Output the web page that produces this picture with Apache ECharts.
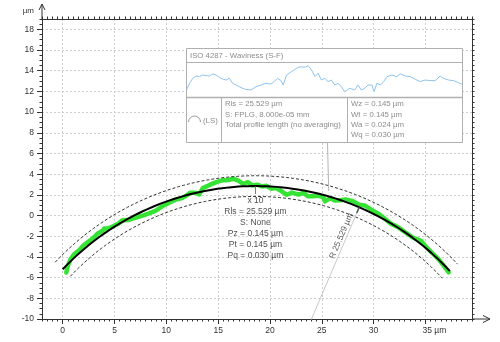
<!DOCTYPE html>
<html>
<head>
<meta charset="utf-8">
<script src="https://cdn.jsdelivr.net/npm/echarts@6/dist/echarts.min.js"></script>
<style>
  html, body { margin: 0; padding: 0; background: #fff; }
  #chart { width: 500px; height: 342px; }
</style>
</head>
<body>
<div id="chart"></div>
<script>
// Least-squares circle fitted to the trace, in chart coordinates (µm)
const fitRadius = 25.529;
const fitCenter = [18.6, -22.68];
const bandOffset = 1.0;      // displayed tolerance band around the fit (µm)
const exaggeration = 10;     // deviation magnification on the main plot

// Waviness profile: position along the trace (µm) and deviation from the fit (µm)
const profileX = [0.00, 0.41, 0.85, 1.31, 1.76, 2.21, 2.67, 3.11, 3.56, 4.02, 4.24, 4.47, 4.92, 5.38, 5.82,
  6.27, 6.73, 7.18, 7.62, 8.08, 8.76, 9.44, 10.11, 10.79, 11.47, 11.92, 12.36, 12.82, 13.13, 13.58,
  14.26, 14.93, 15.39, 16.07, 16.52, 16.97, 17.43, 17.87, 18.32, 18.78, 19.23, 19.67, 20.13, 20.58, 21.03,
  21.49, 21.70, 22.16, 22.84, 23.29, 23.74, 24.20, 24.64, 25.18, 25.46, 25.86, 26.31, 26.77, 27.22, 27.89,
  28.57, 29.02, 29.69, 30.37, 31.05, 31.72, 32.40, 33.08, 33.76, 34.43, 34.89, 35.57, 36.25, 36.92, 37.37];
const profileW = [-0.047, -0.012, 0.014, 0.026, 0.023, 0.031, 0.028, 0.026, 0.037, 0.031, 0.040, 0.019, 0.010, 0.005, 0.014,
  -0.012, -0.021, -0.030, -0.038, -0.044, -0.047, -0.030, -0.021, -0.012, -0.016, -0.003, 0.014, 0.002, -0.021, 0.031,
  0.049, 0.066, 0.074, 0.072, 0.080, 0.058, 0.023, 0.040, 0.005, 0.014, -0.003, 0.005, -0.021, -0.012, -0.030,
  -0.056, -0.065, -0.038, -0.047, -0.021, -0.047, -0.038, -0.021, -0.021, -0.056, -0.012, -0.021, -0.003, 0.023, 0.031,
  0.023, 0.037, 0.026, 0.023, 0.009, -0.003, 0.005, 0.002, 0.002, 0.026, 0.014, 0.005, 0.002, -0.009, -0.016];

// Axis ticks
const xTicks = [0, 5, 10, 15, 20, 25, 30, 35];
const yTicks = [-10, -8, -6, -4, -2, 0, 2, 4, 6, 8, 10, 12, 14, 16, 18];

// Reported parameters
const primaryLines = ['Pz = 0.145 µm', 'Pt = 0.145 µm', 'Pq = 0.030 µm'];
const waveLines = ['Wz = 0.145 µm', 'Wt = 0.145 µm', 'Wa = 0.024 µm', 'Wq = 0.030 µm'];
const filterLines = ['Rls = 25.529 µm', 'S: FPLG, 8.000e-05 mm', 'Total profile length (no averaging)'];
const radiusAngle = 66.9;    // direction of the radius callout (degrees)

const FONT = "'Liberation Sans', Arial, sans-serif";

// Point on a circle concentric with the fit, at the angle of trace position x
function onCircle(x, r) {
  const th = Math.acos((x - fitCenter[0]) / fitRadius);
  return [fitCenter[0] + r * Math.cos(th), fitCenter[1] + r * Math.sin(th)];
}
function atAngle(deg, r, side) {
  const t = deg * Math.PI / 180;
  const s = side || 0;
  return [fitCenter[0] + r * Math.cos(t) - s * Math.sin(t), fitCenter[1] + r * Math.sin(t) + s * Math.cos(t)];
}

const arcPts = profileX.map(x => onCircle(x, fitRadius));
const outerPts = profileX.map(x => onCircle(x, fitRadius + bandOffset));
const innerPts = profileX.map(x => onCircle(x, fitRadius - bandOffset));
const tracePts = profileX.map((x, i) => onCircle(x, fitRadius + exaggeration * profileW[i]));
const insetPts = profileX.map((x, i) => [x, profileW[i]]);

// Main plot frame
const G = { left: 42, top: 19, width: 430, height: 300 };
// Waviness panel
const B = { x: 186.5, y: 48.5, w: 276, h: 94, title: 62.5, row: 97.5, c1: 221.5, c2: 347.5 };

const gridLine = { show: true, lineStyle: { color: '#cfcfcf', type: [2, 2], width: 1 } };
const axisLineDark = { show: true, onZero: false, lineStyle: { color: '#333', width: 1 } };
const minorX = (pos) => ({
  type: 'value', gridIndex: 0, position: pos, min: -2, max: 39.5, interval: 0.5,
  axisLine: axisLineDark, axisTick: { show: true, length: 2.5, lineStyle: { color: '#333' } },
  axisLabel: { show: false }, splitLine: { show: false }
});
const minorY = (pos) => ({
  type: 'value', gridIndex: 0, position: pos, min: -10, max: 19, interval: 0.5,
  axisLine: axisLineDark, axisTick: { show: true, length: 2.5, lineStyle: { color: '#333' } },
  axisLabel: { show: false }, splitLine: { show: false }
});

const insetText = (x, y, t) => ({
  type: 'text', x: x, y: y, z: 20,
  style: { text: t, fill: '#8c8c8c', font: '7.8px ' + FONT, textAlign: 'left', textVerticalAlign: 'middle', align: 'left', verticalAlign: 'middle' }
});
const seg = (x1, y1, x2, y2, color, w) => ({
  type: 'line', z: 12, shape: { x1: x1, y1: y1, x2: x2, y2: y2 },
  style: { stroke: color, lineWidth: w || 1 }
});

const chart = echarts.init(document.getElementById('chart'), null, { renderer: 'canvas' });
chart.setOption({
  animation: false,
  backgroundColor: '#fff',
  textStyle: { fontFamily: FONT },
  grid: [
    { left: G.left, top: G.top, width: G.width, height: G.height },
    { left: B.x, top: B.title + 0.5, width: B.w, height: B.row - B.title - 1 }
  ],
  xAxis: [
    {
      type: 'value', gridIndex: 0, position: 'bottom', min: -2, max: 39.5,
      axisLine: axisLineDark,
      axisTick: { show: true, length: 5, customValues: xTicks, lineStyle: { color: '#333' } },
      axisLabel: {
        customValues: xTicks, margin: 7, color: '#333', fontSize: 8.5, fontFamily: FONT,
        formatter: v => v === xTicks[xTicks.length - 1] ? '{pad|}' + v + ' µm' : String(v),
        rich: { pad: { width: 18 } }
      },
      splitLine: gridLine
    },
    minorX('bottom'),
    minorX('top'),
    { type: 'value', gridIndex: 1, min: 0, max: 37.47, show: false }
  ],
  yAxis: [
    {
      type: 'value', gridIndex: 0, position: 'left', min: -10, max: 19,
      axisLine: axisLineDark,
      axisTick: { show: true, length: 5, customValues: yTicks, lineStyle: { color: '#333' } },
      axisLabel: { customValues: yTicks, margin: 8, color: '#333', fontSize: 8.5, fontFamily: FONT },
      splitLine: gridLine
    },
    minorY('left'),
    minorY('right'),
    { type: 'value', gridIndex: 1, min: -0.0835, max: 0.0939, show: false }
  ],
  series: [
    {
      name: 'trace', type: 'line', xAxisIndex: 0, yAxisIndex: 0, data: tracePts, showSymbol: false, z: 2,
      lineStyle: { color: '#35e335', width: 4.5, cap: 'round', join: 'round' }
    },
    {
      name: 'band+', type: 'line', data: outerPts, showSymbol: false, z: 3,
      lineStyle: { color: '#333', width: 1, type: [3, 2] }
    },
    {
      name: 'band-', type: 'line', data: innerPts, showSymbol: false, z: 3,
      lineStyle: { color: '#333', width: 1, type: [3, 2] }
    },
    {
      name: 'fit', type: 'line', data: arcPts, showSymbol: false, z: 4,
      lineStyle: { color: '#000', width: 2 }
    },
    {
      name: 'radius', type: 'line', data: [fitCenter, atAngle(radiusAngle, fitRadius)], showSymbol: false, z: 3,
      lineStyle: { color: '#c8c8c8', width: 1 }
    },
    {
      name: 'radius tip', type: 'line', data: [atAngle(radiusAngle, fitRadius - 0.6), atAngle(radiusAngle, fitRadius)],
      showSymbol: false, z: 5, lineStyle: { color: '#555', width: 1.5 }
    },
    {
      name: 'apex', type: 'scatter', z: 6,
      data: [[fitCenter[0], fitCenter[1] + fitRadius]],
      symbol: 'rect', symbolSize: [1, 8], symbolOffset: [0, 4], itemStyle: { color: '#555' },
      label: {
        show: true, position: 'bottom', distance: 1, color: '#222', fontSize: 8.5, lineHeight: 11,
        align: 'center', fontFamily: FONT,
        formatter: () => ['x ' + exaggeration, 'Rls = ' + fitRadius.toFixed(3) + ' µm', 'S: None'].concat(primaryLines).join('\n')
      }
    },
    {
      name: 'radius label', type: 'scatter', z: 6, symbolSize: 0,
      data: [atAngle(radiusAngle, 22.3, 0.5)],
      label: {
        show: true, position: 'inside', rotate: radiusAngle, color: '#333', fontSize: 8.5, fontFamily: FONT,
        formatter: () => 'R ' + fitRadius.toFixed(3) + ' µm'
      }
    },
    {
      name: 'waviness', type: 'line', xAxisIndex: 3, yAxisIndex: 3, data: insetPts, showSymbol: false, z: 30,
      lineStyle: { color: '#8fc2ee', width: 1 },
      markLine: {
        silent: true, symbol: 'none', label: { show: false },
        data: [
          { yAxis: Math.max(...profileW), lineStyle: { color: '#a8a8a8', type: [2, 2], width: 1 } },
          { yAxis: Math.min(...profileW), lineStyle: { color: '#a8a8a8', type: [2, 2], width: 1 } },
          { yAxis: 0, lineStyle: { color: '#bdbdbd', type: 'solid', width: 2 } }
        ]
      }
    }
  ],
  graphic: {
    elements: [
      // axis arrows and unit
      seg(G.left, G.top, G.left, 4, '#333'),
      { type: 'polyline', z: 12, shape: { points: [[G.left - 3, 10], [G.left, 4], [G.left + 3, 10]] }, style: { stroke: '#333', fill: null, lineWidth: 1 } },
      seg(G.left + G.width, G.top + G.height, 490, G.top + G.height, '#333'),
      { type: 'polyline', z: 12, shape: { points: [[483, G.top + G.height - 3.5], [490, G.top + G.height], [483, G.top + G.height + 3.5]] }, style: { stroke: '#333', fill: null, lineWidth: 1 } },
      { type: 'text', x: 34, y: 11, z: 12, style: { text: 'µm', fill: '#333', font: '8px ' + FONT, textAlign: 'right', textVerticalAlign: 'middle', align: 'right', verticalAlign: 'middle' } },
      // leader from panel to the trace
      seg(327.5, B.y + B.h, 328.7, 191, '#b4b4b4'),
      // waviness panel
      { type: 'rect', z: 10, shape: { x: B.x, y: B.y, width: B.w, height: B.h }, style: { fill: '#fff', stroke: '#b0b0b0', lineWidth: 1 } },
      seg(B.x, B.title, B.x + B.w, B.title, '#b0b0b0'),
      seg(B.x, B.row, B.x + B.w, B.row, '#b0b0b0', 1.5),
      seg(B.c1, B.row, B.c1, B.y + B.h, '#b0b0b0'),
      seg(B.c2, B.row, B.c2, B.y + B.h, '#b0b0b0'),
      insetText(190, 55.7, 'ISO 4287 - Waviness (S-F)'),
      { type: 'arc', z: 20, shape: { cx: 194.5, cy: 122, r: 6, startAngle: Math.PI, endAngle: 2 * Math.PI }, style: { stroke: '#9a9a9a', fill: null, lineWidth: 1 } },
      insetText(203, 121, '(LS)'),
      insetText(225, 104, filterLines[0]),
      insetText(225, 114.4, filterLines[1]),
      insetText(225, 124.8, filterLines[2]),
      insetText(351, 104, waveLines[0]),
      insetText(351, 114.4, waveLines[1]),
      insetText(351, 124.8, waveLines[2]),
      insetText(351, 135.2, waveLines[3])
    ]
  }
});
</script>
</body>
</html>
